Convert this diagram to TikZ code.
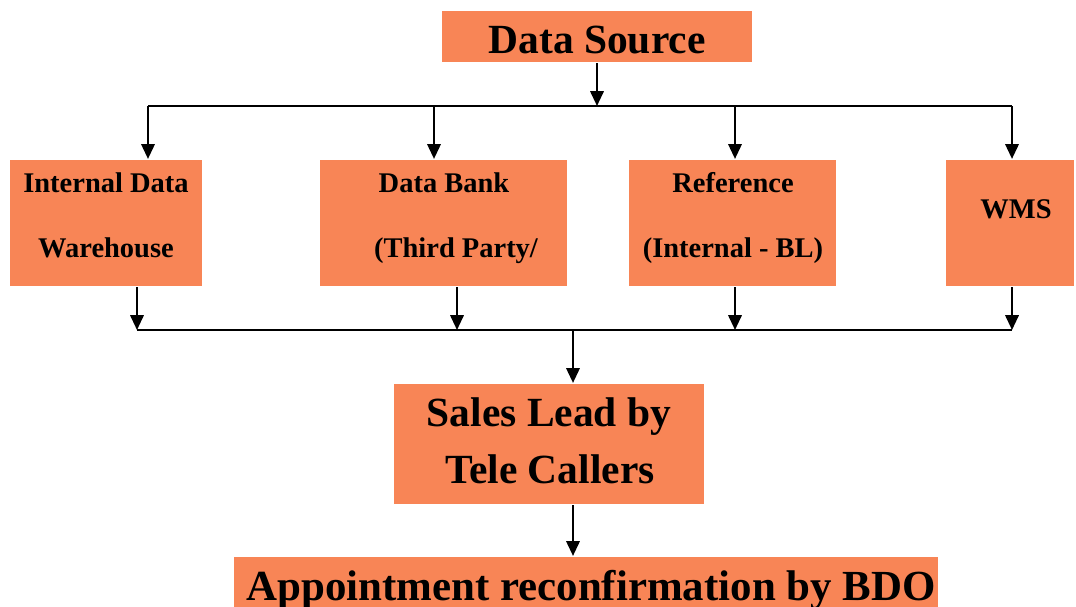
\documentclass[tikz,border=0pt]{standalone}
\usepackage{fontspec}
\setmainfont{Liberation Serif}
\usetikzlibrary{arrows.meta}
\definecolor{boxfill}{RGB}{248,133,86}
\begin{document}
\begin{tikzpicture}[x=0.01cm,y=-0.01cm,
  box/.style={draw=none,fill=boxfill,inner sep=0pt},
  txt/.style={anchor=base,inner sep=0pt,font=\bfseries},
  small/.style={txt,font=\fontsize{8.1}{9}\selectfont\bfseries},
  big/.style={txt,font=\fontsize{11.8}{13}\selectfont\bfseries},
  arr/.style={-{Triangle[length=4.2pt,width=3.8pt]}},
  line width=0.6pt]
\clip (0,0) rectangle (1076,606);
% boxes
\node[box,minimum width=31mm,minimum height=5.1mm] (ds) at (597,36.5) {};
\node[box,minimum width=19.2mm,minimum height=12.6mm] (iw) at (106,223) {};
\node[box,minimum width=24.7mm,minimum height=12.6mm] (db) at (443.5,223) {};
\node[box,minimum width=20.7mm,minimum height=12.6mm] (rf) at (732.5,223) {};
\node[box,minimum width=12.8mm,minimum height=12.6mm] (wm) at (1010,223) {};
\node[box,minimum width=31mm,minimum height=12mm] (sl) at (549,444) {};
\node[box,minimum width=70.4mm,minimum height=6.6mm] (ap) at (586,590) {};
% texts
\node[big] (dst) at (597,54) {Data Source};
\node[small] (iw1) at (106,192) {Internal Data};
\node[small] (iw2) at (106,257) {Warehouse};
\node[small] (db1) at (444,192) {Data Bank};
\node[small] (db2) at (456,257) {(Third Party/};
\node[small] (rf1) at (733,192) {Reference};
\node[small] (rf2) at (733,257) {(Internal - BL)};
\node[small] (wm1) at (1016,218) {WMS};
\node[big] (sl1) at (549,426) {Sales Lead by};
\node[big] (sl2) at (550,483) {Tele Callers};
\node[txt,font=\fontsize{12.2}{14}\selectfont\bfseries] (ap1) at (591,600) {Appointment reconfirmation by BDO};
% bus coordinates
\coordinate (j1) at (597,106);
\coordinate (t1) at (148,106);
\coordinate (t2) at (434,106);
\coordinate (t3) at (735,106);
\coordinate (t4) at (1012,106);
\coordinate (b1) at (137,330);
\coordinate (b2) at (457,330);
\coordinate (b3) at (735,330);
\coordinate (b4) at (1012,330);
\coordinate (j2) at (573,330);
% connectors
\draw[arr] (ds.south) -- (j1);
\draw (t1) -- (t4);
\draw[arr] (t1) -- (t1 |- iw.north);
\draw[arr] (t2) -- (t2 |- db.north);
\draw[arr] (t3) -- (t3 |- rf.north);
\draw[arr] (t4) -- (t4 |- wm.north);
\draw[arr] (iw.south -| b1) -- (b1);
\draw[arr] (db.south -| b2) -- (b2);
\draw[arr] (rf.south -| b3) -- (b3);
\draw[arr] (wm.south -| b4) -- (b4);
\draw (b1) -- (b4);
\draw[arr] (j2) -- (j2 |- sl.north);
\draw[arr] (sl.south -| j2) -- (j2 |- ap.north);
\end{tikzpicture}
\end{document}
